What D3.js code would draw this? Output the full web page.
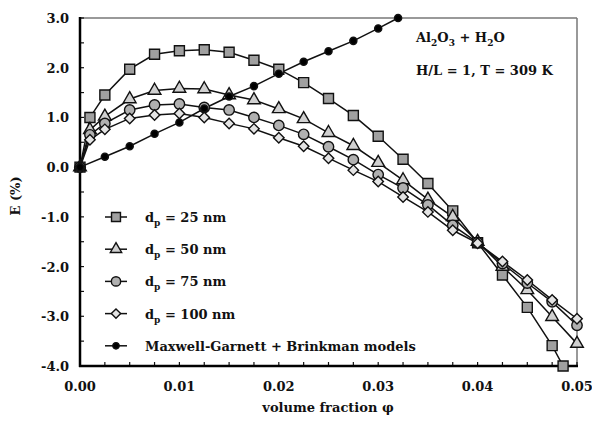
<html>
<script src="https://d3js.org/d3.v7.min.js"></script>
<style>
body {margin:0; background:#fff;}
text {font-family:"DejaVu Serif", serif; fill:#111; font-weight:bold;}
</style>
<body>
<svg id="chart" width="592" height="421"></svg>
<script>
// volume fractions used by the measured series
var phi = [0, 0.001, 0.0025, 0.005, 0.0075, 0.01, 0.0125, 0.015, 0.0175, 0.02, 0.0225,
           0.025, 0.0275, 0.03, 0.0325, 0.035, 0.0375, 0.04, 0.0425, 0.045, 0.0475, 0.05];
var phi25 = [0, 0.001, 0.0025, 0.005, 0.0075, 0.01, 0.0125, 0.015, 0.0175, 0.02, 0.0225,
           0.025, 0.0275, 0.03, 0.0325, 0.035, 0.0375, 0.04, 0.0425, 0.045, 0.0475, 0.0486];
var phiMG = [0, 0.0025, 0.005, 0.0075, 0.01, 0.0125, 0.015, 0.0175, 0.02, 0.0225, 0.025, 0.0275, 0.03, 0.032];

var e25 = [0, 1.00, 1.45, 1.97, 2.27, 2.34, 2.36, 2.31, 2.15, 1.97, 1.70, 1.38, 1.04, 0.62, 0.16,
           -0.33, -0.88, -1.52, -2.17, -2.82, -3.59, -4.0];
var e50 = [0, 0.75, 1.02, 1.37, 1.54, 1.58, 1.57, 1.45, 1.35, 1.17, 0.97, 0.69, 0.43, 0.09, -0.26,
           -0.65, -1.0, -1.50, -2.0, -2.47, -3.01, -3.55];
var e75 = [0, 0.65, 0.88, 1.15, 1.25, 1.27, 1.20, 1.15, 1.0, 0.84, 0.66, 0.41, 0.15, -0.15, -0.42,
           -0.76, -1.17, -1.52, -1.94, -2.33, -2.71, -3.18];
var e100 = [0, 0.55, 0.76, 0.98, 1.05, 1.08, 1.0, 0.88, 0.77, 0.59, 0.42, 0.18, -0.06, -0.29, -0.60,
           -0.90, -1.27, -1.53, -1.90, -2.27, -2.67, -3.05];
var eMG = [0, 0.21, 0.42, 0.67, 0.90, 1.18, 1.42, 1.63, 1.88, 2.12, 2.33, 2.54, 2.79, 3.0];

var xTicks = [0, 0.01, 0.02, 0.03, 0.04, 0.05];
var yTicks = [-4, -3, -2, -1, 0, 1, 2, 3];
var legendNames = ["25 nm", "50 nm", "75 nm", "100 nm", "Maxwell-Garnett + Brinkman models"];

var mLeft = 80, mTop = 18, width = 497, height = 348;
var svg = d3.select("#chart");

var x = d3.scaleLinear().domain([0, 0.05]).range([mLeft, mLeft + width]);
var y = d3.scaleLinear().domain([-4, 3]).range([mTop + height, mTop]);

// grey frame top / right
svg.append("line").attr("x1", mLeft).attr("x2", mLeft + width).attr("y1", mTop).attr("y2", mTop)
  .attr("stroke", "#777").attr("stroke-width", 1.5);
svg.append("line").attr("x1", mLeft + width).attr("x2", mLeft + width).attr("y1", mTop).attr("y2", mTop + height)
  .attr("stroke", "#777").attr("stroke-width", 1.5);

// inner minor ticks
svg.append("g").selectAll("line").data(d3.range(0, 0.05001, 0.0025)).enter().append("line")
  .attr("x1", d => x(d)).attr("x2", d => x(d)).attr("y1", mTop + height).attr("y2", mTop + height - 4)
  .attr("stroke", "#111").attr("stroke-width", 1.2);
svg.append("g").selectAll("line").data(d3.range(-4, 3.001, 0.5)).enter().append("line")
  .attr("x1", mLeft).attr("x2", mLeft + 4).attr("y1", d => y(d)).attr("y2", d => y(d))
  .attr("stroke", "#111").attr("stroke-width", 1.2);

// main axes
svg.append("line").attr("x1", mLeft).attr("x2", mLeft).attr("y1", mTop - 1).attr("y2", mTop + height + 1)
  .attr("stroke", "#000").attr("stroke-width", 2.5);
svg.append("line").attr("x1", mLeft - 1).attr("x2", mLeft + width + 1).attr("y1", mTop + height).attr("y2", mTop + height)
  .attr("stroke", "#000").attr("stroke-width", 2.5);

svg.append("g").selectAll("text").data(yTicks).enter().append("text")
  .attr("x", mLeft - 11).attr("y", d => y(d) + 5).attr("text-anchor", "end")
  .style("font-size", "13px").text(d => d3.format(".1f")(d).replace("\u2212", "-"));
svg.append("g").selectAll("text").data(xTicks).enter().append("text")
  .attr("x", d => x(d)).attr("y", mTop + height + 25).attr("text-anchor", "middle")
  .style("font-size", "13px").text(d => d3.format(".2f")(d));

svg.append("text").attr("x", 328).attr("y", 412).attr("text-anchor", "middle")
  .style("font-size", "13px").text("volume fraction φ");
svg.append("text").attr("transform", "translate(20," + (mTop + height / 2 + 4) + ") rotate(-90)")
  .attr("text-anchor", "middle").style("font-size", "13px").text("E (%)");

// series
var series = [
  {xs: phi25, ys: e25, sym: d3.symbolSquare, size: 100, fill: "#a0a0a0", rot: 0},
  {xs: phi, ys: e50, sym: d3.symbolTriangle, size: 70, fill: "#d0d0d0", rot: 0},
  {xs: phi, ys: e75, sym: d3.symbolCircle, size: 85, fill: "#b0b0b0", rot: 0},
  {xs: phi, ys: e100, sym: d3.symbolSquare, size: 55, fill: "#e4e4e4", rot: 45},
  {xs: phiMG, ys: eMG, sym: d3.symbolCircle, size: 40, fill: "#000", rot: 0}
];

var line = d3.line().x(d => x(d[0])).y(d => y(d[1]));

series.forEach(function(s) {
  var pts = s.xs.map((v, i) => [v, s.ys[i]]);
  svg.append("path").attr("d", line(pts)).attr("fill", "none")
    .attr("stroke", "#111").attr("stroke-width", 1.5);
});
series.forEach(function(s) {
  var pts = s.xs.map((v, i) => [v, s.ys[i]]);
  svg.append("g").selectAll("path").data(pts).enter().append("path")
    .attr("d", d3.symbol().type(s.sym).size(s.size))
    .attr("transform", d => "translate(" + x(d[0]) + "," + y(d[1]) + ") rotate(" + s.rot + ")")
    .attr("fill", s.fill).attr("stroke", "#111").attr("stroke-width", 1.4);
});

// legend
var leg = svg.append("g");
series.forEach(function(s, i) {
  var ly = 217 + i * 32.2;
  leg.append("line").attr("x1", 105).attr("x2", 127).attr("y1", ly).attr("y2", ly)
    .attr("stroke", "#111").attr("stroke-width", 1.5);
  leg.append("path").attr("d", d3.symbol().type(s.sym).size(s.size * 0.8))
    .attr("transform", "translate(116," + ly + ") rotate(" + s.rot + ")")
    .attr("fill", s.fill).attr("stroke", "#111").attr("stroke-width", 1.4);
  var t = leg.append("text").attr("x", 145).attr("y", ly + 5).style("font-size", "13px");
  if (i < 4) {
    t.append("tspan").text("d");
    t.append("tspan").attr("dy", 4).style("font-size", "9px").text("p");
    t.append("tspan").attr("dy", -4).text(" = " + legendNames[i]);
  } else {
    t.text(legendNames[i]);
  }
});

// annotation
var a1 = svg.append("text").attr("x", 416).attr("y", 42).style("font-size", "13px");
a1.append("tspan").text("Al");
a1.append("tspan").attr("dy", 4).style("font-size", "9px").text("2");
a1.append("tspan").attr("dy", -4).text("O");
a1.append("tspan").attr("dy", 4).style("font-size", "9px").text("3");
a1.append("tspan").attr("dy", -4).text(" + H");
a1.append("tspan").attr("dy", 4).style("font-size", "9px").text("2");
a1.append("tspan").attr("dy", -4).text("O");
svg.append("text").attr("x", 416).attr("y", 75).style("font-size", "13px").text("H/L = 1, T = 309 K");
</script>
</body>
</html>
